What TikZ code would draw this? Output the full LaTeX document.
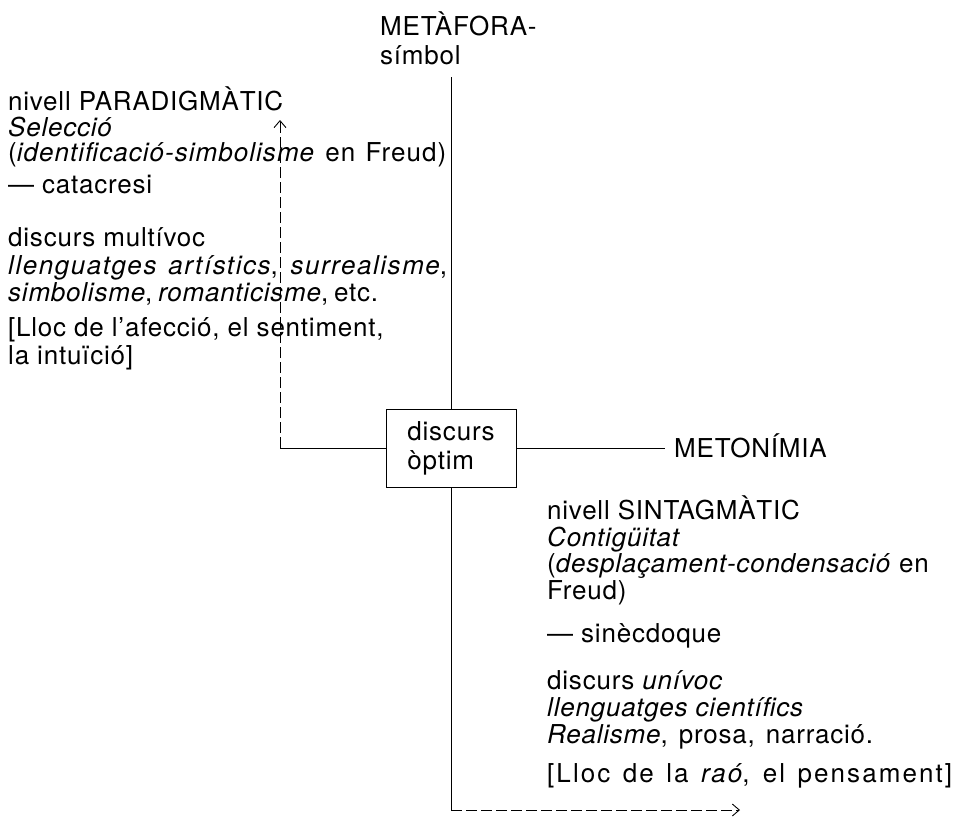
\documentclass[tikz,border=0pt]{standalone}
\usepackage{fontspec}
\setmainfont{TeX Gyre Heros}[LetterSpace=3]
\usetikzlibrary{arrows.meta}
\newcommand{\wideline}[3]{\addfontfeatures{LetterSpace=#1}\makebox[#2][s]{#3}}
\begin{document}
\begin{tikzpicture}[x=1pt,y=-1pt,
  txt/.style={anchor=base west, inner sep=0pt, font=\fontsize{26}{26}\selectfont},
  ln/.style={line width=0.9pt},
  dsh/.style={line width=0.9pt, dash pattern=on 11pt off 4pt},
  tipped/.style={-{Straight Barb[length=7pt,width=12pt]}},
  boxed/.style={draw, line width=0.9pt, minimum width=130pt, minimum height=78pt, inner sep=0pt, align=left, font=\fontsize{26}{29}\selectfont}]
\useasboundingbox (0,0) rectangle (956,817);
% top label
\node[txt] (m1) at (380,35) {METÀFORA-};
\node[txt] (m2) at (380,64) {símbol};
\coordinate (mtop) at (451,77);
% central box
\node[boxed] (box) at (451,448) {discurs\\òptim};
\draw[ln] (box.north) -- (mtop);
% right
\coordinate (mright) at (665,448);
\node[txt] (meton) at (674,457) {METONÍMIA};
\draw[ln] (box.east) -- (mright);
% left
\coordinate (lcorner) at (280,448);
\coordinate (ltip) at (280,120);
\draw[ln] (box.west) -- (lcorner);
\draw[dsh,tipped] (lcorner) -- (ltip);
% bottom
\coordinate (bcorner) at (451,810);
\coordinate (btip) at (740,810);
\draw[ln] (box.south) -- (bcorner);
\draw[dsh,tipped] (bcorner) -- (btip);
% left text
\node[txt] (p1) at (8,110) {nivell PARADIGMÀTIC};
\node[txt] (p2) at (8,136) {\textit{Selecció}};
\node[txt] (p3) at (8,161) {\wideline{4}{438pt}{(\textit{identificació-simbolisme} en Freud)}};
\node[txt] (p4) at (8,193) {— catacresi};
\node[txt] (p5) at (8,246) {discurs multívoc};
\node[txt] (p6) at (8,274) {\wideline{6}{439pt}{\textit{llenguatges artístics}, \textit{surrealisme},}};
\node[txt] (p7) at (8,301) {\makebox[359pt][s]{\textit{simbolisme}, \textit{romanticisme}, etc.}};
\node[txt] (p8) at (8,336) {[Lloc de l'afecció, el sentiment,};
\node[txt] (p9) at (8,364) {la intuïció]};
% right text
\node[txt] (s1) at (547,519) {nivell SINTAGMÀTIC};
\node[txt] (s2) at (547,546) {\textit{Contigüitat}};
\node[txt] (s3) at (547,572) {(\textit{desplaçament-condensació} en};
\node[txt] (s4) at (547,599) {Freud)};
\node[txt] (s5) at (547,642) {— sinècdoque};
\node[txt] (s6) at (547,689) {discurs \textit{unívoc}};
\node[txt] (s7) at (547,716) {\textit{llenguatges científics}};
\node[txt] (s8) at (547,743) {\makebox[326pt][s]{\textit{Realisme}, prosa, narració.}};
\node[txt] (s9) at (547,782) {\wideline{8}{405pt}{[Lloc de la \textit{raó}, el pensament]}};
\end{tikzpicture}
\end{document}
